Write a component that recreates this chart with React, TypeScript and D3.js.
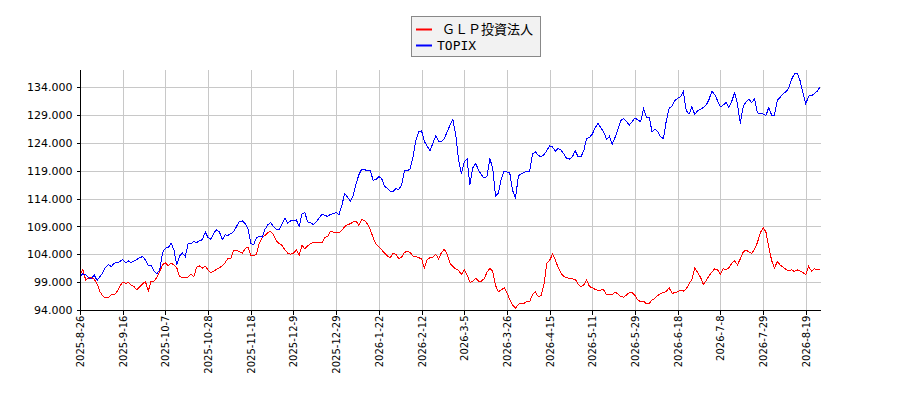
import * as d3 from "d3";
import { useEffect, useRef } from "react";

// tick labels on the x axis, one every 15 trading days
const dateLabels = [
  "2025-8-26", "2025-9-16", "2025-10-7", "2025-10-28", "2025-11-18", "2025-12-9",
  "2025-12-29", "2026-1-22", "2026-2-12", "2026-3-5", "2026-3-26", "2026-4-15",
  "2026-5-11", "2026-5-29", "2026-6-18", "2026-7-8", "2026-7-29", "2026-8-19",
];
const tickStep = 15;

const yTicks = [94, 99, 104, 109, 114, 119, 124, 129, 134];

const seriesNames = ["ＧＬＰ投資法人", "TOPIX"];
const seriesColors = ["#ff0000", "#0000ff"];

// values in thousands (label 104.000 = 104,000)
const glpValues = [
  100.3, 101.2, 99.4, 99.7, 99.9, 99.5, 98.7, 97.3, 96.5, 96.2, 96.2, 96.7, 96.7, 97.3, 98.3,
  99.0, 98.8, 98.9, 98.5, 98.2, 97.6, 98.2, 98.7, 99.1, 97.4, 99.2, 99.2, 99.8, 100.9, 102.1,
  102.5, 101.9, 102.4, 102.1, 101.6, 100.0, 99.8, 99.9, 99.9, 100.5, 100.0, 101.7, 101.9, 101.5, 101.9,
  101.2, 100.7, 101.0, 101.3, 101.6, 101.9, 102.5, 103.3,
  103.2, 104.7, 104.7, 104.5, 104.2, 105.0, 105.3, 103.8, 103.8, 104.0, 106.0, 107.0, 107.4, 107.9, 108.1,
  107.5, 106.4, 105.9, 105.6, 104.8, 104.2, 104.0, 104.2, 104.8, 103.8, 105.6, 105.0, 105.5, 105.9, 106.2,
  106.1, 106.1, 106.1, 107.0, 107.2, 108.1, 108.0, 108.0, 107.9, 108.3, 109.0, 109.3, 109.5, 109.8, 110.0,
  109.2, 110.2, 110.1, 109.4, 108.4, 107.0, 105.8,
  105.4, 104.8, 104.2, 103.7, 103.4, 104.2, 104.0, 103.2, 103.5, 104.3, 104.6, 104.3, 103.7, 103.6, 103.4,
  103.2, 101.5, 103.1, 103.4, 103.5, 104.0, 103.2, 104.3, 104.9, 104.0, 102.4, 101.8, 101.4, 101.1, 100.4,
  101.2, 100.3, 99.0, 99.1, 99.7, 99.2, 99.2, 99.6, 100.8, 101.5, 101.0, 98.4, 97.3, 97.6, 98.0,
  97.1, 95.9, 94.9, 94.3, 95.0, 95.2, 95.2,
  95.5, 95.5, 96.8, 97.2, 96.4, 96.6, 98.5, 102.4, 102.9, 104.0, 103.0, 101.6, 100.6, 100.0, 99.8,
  99.7, 99.6, 99.5, 98.7, 98.2, 98.5, 99.4, 98.2, 98.0, 97.7, 97.5, 97.6, 97.6, 96.7, 96.8,
  96.8, 97.2, 96.9, 96.4, 96.3, 96.7, 97.1, 97.1, 96.6, 95.8, 95.5, 95.6, 95.1, 95.2, 95.8,
  96.1, 96.6, 97.0, 97.1, 97.3, 98.0, 97.0, 97.1,
  97.3, 97.5, 97.4, 97.8, 98.7, 99.5, 101.6, 100.7, 99.9, 98.6, 99.3, 100.1, 100.8, 101.4, 101.2,
  100.4, 101.4, 101.2, 101.6, 102.4, 102.8, 102.1, 103.2, 104.4, 104.8, 104.4, 104.2, 104.9, 106.1, 107.8,
  108.8, 108.0, 105.4, 102.9, 101.5, 102.7, 102.1, 101.7, 101.3, 101.0, 101.2, 100.9, 101.2, 101.0, 100.7,
  100.4, 101.8, 101.0, 101.4, 101.2, 101.2,
];

const topixValues = [
  100.0, 100.5, 100.3, 99.8, 99.6, 100.3, 99.3, 100.0, 100.7, 101.7, 102.2, 101.8, 102.4, 102.5, 102.7,
  103.1, 102.5, 102.8, 102.5, 102.8, 103.1, 103.4, 103.6, 103.0, 101.9, 102.0, 101.0, 100.5, 101.2, 104.3,
  105.1, 105.2, 106.0, 104.8, 102.1, 103.7, 104.2, 103.6, 105.9, 105.9, 106.3, 106.1, 106.5, 106.6, 108.0,
  107.0, 106.7, 107.8, 108.4, 108.0, 106.6, 107.5, 107.4,
  107.7, 108.1, 109.0, 109.9, 110.0, 109.5, 108.6, 106.0, 105.7, 107.0, 107.2, 107.1, 108.5, 109.3, 109.7,
  109.0, 108.5, 108.5, 109.5, 110.5, 109.6, 110.0, 110.0, 110.2, 109.0, 111.3, 111.5, 109.8, 109.7, 109.3,
  109.8, 110.5, 111.2, 111.0, 110.8, 111.2, 111.3, 111.5, 111.1, 112.8, 114.9, 114.3, 113.5, 114.6, 116.7,
  118.3, 119.3, 119.2, 119.0, 119.0, 117.3,
  117.4, 118.0, 117.6, 116.2, 115.9, 115.3, 115.3, 115.8, 115.6, 116.5, 119.0, 119.0, 119.3, 121.5, 124.5,
  126.0, 126.2, 124.3, 123.4, 122.6, 124.0, 125.3, 124.3, 124.2, 124.8, 126.0, 127.2, 128.2, 125.5, 121.0,
  118.4, 120.6, 121.1, 116.5, 119.5, 120.3, 119.2, 118.3, 117.7, 118.0, 121.2, 119.5, 114.5, 115.0, 117.5,
  118.9, 118.8, 118.6, 115.5, 114.0, 118.0, 118.5, 118.7,
  118.9, 118.9, 122.0, 122.4, 121.8, 121.5, 121.9, 122.6, 123.5, 123.3, 122.5, 123.0, 122.7, 122.0, 121.2,
  121.1, 121.5, 122.6, 121.5, 121.5, 122.6, 124.8, 125.0, 125.6, 126.7, 127.6, 126.7, 126.0, 124.6, 125.2,
  123.8, 125.0, 126.5, 128.0, 128.4, 127.9, 127.2, 127.8, 128.5, 128.1, 127.8, 130.1, 128.6, 128.6, 126.0,
  126.5, 126.0, 125.1, 124.8, 128.0, 130.2, 130.6, 131.6,
  132.0, 132.3, 133.2, 129.8, 129.2, 130.5, 129.1, 129.8, 130.0, 130.4, 130.8, 131.8, 133.3, 132.7, 131.6,
  130.5, 130.8, 131.3, 130.4, 131.5, 133.0, 131.0, 127.5, 130.5, 131.4, 131.9, 131.2, 132.0, 129.4, 129.3,
  129.2, 128.9, 130.4, 129.0, 129.0, 131.7, 132.2, 132.8, 133.2, 133.8, 135.4, 136.4, 136.5, 135.2, 133.0,
  131.0, 132.4, 132.5, 132.8, 133.3, 134.0,
];

export default function App() {
  const ref = useRef<SVGSVGElement>(null);

  useEffect(() => {
    if (!ref.current) return;
    const svg = d3.select(ref.current);
    svg.selectAll("*").remove();

    const width = 900;
    const height = 400;
    const margin = { top: 70, right: 80, bottom: 90, left: 80 };

    const x = d3
      .scaleLinear()
      .domain([0, 260])
      .range([margin.left, width - margin.right]);
    const y = d3
      .scaleLinear()
      .domain([94, 137.1])
      .range([height - margin.bottom, margin.top]);

    svg.append("rect").attr("width", width).attr("height", height).attr("fill", "#fff");

    const gridColor = "#c8c8c8";
    const tickIdx = dateLabels.map((_, i) => i * tickStep);

    // grid
    const grid = svg.append("g").attr("shape-rendering", "crispEdges");
    grid
      .selectAll(".hgrid")
      .data(yTicks)
      .join("line")
      .attr("x1", margin.left)
      .attr("x2", width - margin.right + 1)
      .attr("y1", (d) => Math.round(y(d)) + 0.5)
      .attr("y2", (d) => Math.round(y(d)) + 0.5)
      .attr("stroke", gridColor);
    grid
      .selectAll(".vgrid")
      .data(tickIdx)
      .join("line")
      .attr("x1", (d) => Math.round(x(d)) + 0.5)
      .attr("x2", (d) => Math.round(x(d)) + 0.5)
      .attr("y1", margin.top)
      .attr("y2", height - margin.bottom)
      .attr("stroke", gridColor);

    // lines (drawn without smoothing, like the source bitmap)
    const line = d3
      .line<number>()
      .x((_, i) => x(i))
      .y((d) => y(d));
    [glpValues, topixValues].forEach((vals, k) => {
      svg
        .append("path")
        .datum(vals)
        .attr("d", line)
        .attr("fill", "none")
        .attr("stroke", seriesColors[k])
        .attr("stroke-width", 1)
        .attr("shape-rendering", "crispEdges");
    });

    // y axis
    const yAxis = svg
      .append("g")
      .attr("transform", `translate(${margin.left + 0.5},0)`)
      .call(
        d3
          .axisLeft(y)
          .tickValues(yTicks)
          .tickSize(4)
          .tickPadding(4)
          .tickFormat((d) => (d as number).toFixed(3))
      );
    yAxis.select(".domain").attr("d", `M0,${margin.top}V${height - margin.bottom}`).attr("stroke", "#000");
    yAxis.selectAll("line").attr("stroke", "#000");
    yAxis
      .selectAll("text")
      .attr("fill", "#000")
      .style("font-family", "DejaVu Sans, sans-serif")
      .style("font-size", "11px");
    yAxis.attr("shape-rendering", "crispEdges");

    // x axis
    const xAxis = svg
      .append("g")
      .attr("transform", `translate(0,${height - margin.bottom + 0.5})`)
      .call(
        d3
          .axisBottom(x)
          .tickValues(tickIdx)
          .tickSize(4)
          .tickFormat((_, i) => dateLabels[i])
      );
    xAxis.select(".domain").attr("d", `M${margin.left},0H${width - margin.right + 1}`).attr("stroke", "#000");
    xAxis.selectAll("line").attr("stroke", "#000");
    xAxis.attr("shape-rendering", "crispEdges");
    xAxis
      .selectAll("text")
      .attr("transform", "rotate(-90)")
      .attr("x", -5)
      .attr("y", 0)
      .attr("dy", "0.35em")
      .attr("text-anchor", "end")
      .attr("fill", "#000")
      .style("font-family", "DejaVu Sans, sans-serif")
      .style("font-size", "10px");

    // legend
    const lg = svg.append("g");
    lg.append("rect")
      .attr("x", 411.5)
      .attr("y", 16.5)
      .attr("width", 129)
      .attr("height", 40)
      .attr("fill", "#f2f2f2")
      .attr("stroke", "#888");
    seriesNames.forEach((name, k) => {
      const cy = 29.5 + k * 16;
      lg.append("line")
        .attr("x1", 416)
        .attr("x2", 432)
        .attr("y1", cy)
        .attr("y2", cy)
        .attr("stroke", seriesColors[k])
        .attr("stroke-width", 2);
      lg.append("text")
        .attr("x", k === 0 ? 442 : 437)
        .attr("y", cy + 4.5)
        .style("font-family", "DejaVu Sans Mono, Noto Sans CJK JP, monospace")
        .style("font-size", "13px")
        .attr("fill", "#000")
        .text(name);
    });
  }, []);

  return (
    <svg
      ref={ref}
      width={900}
      height={400}
      style={{ position: "absolute", left: 0, top: 0, display: "block" }}
    />
  );
}
